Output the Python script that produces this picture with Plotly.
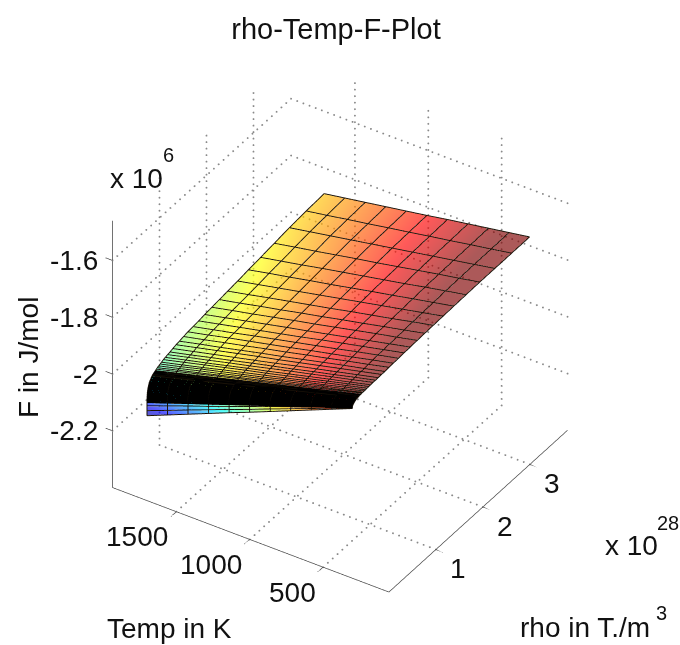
import numpy as np
import plotly.graph_objects as go

# Values
temp_K = [1700, 1560, 1420, 1280, 1140, 1000, 860, 720, 580, 440, 300]
rho_1e28 = [3.77, 3.39, 3.03, 2.71, 2.42, 2.16, 1.93, 1.72, 1.54, 1.38, 1.23, 1.10, .98, .87, .78, .69,
            .62, .55, .49, .44, .39, .35, .31, .28, .25, .22, .20, .18, .16, .14, .125, .11,
            .09, .07, .05, .04, .03, .02, .015, .01, .007, .005, .003, .002, .001, .0005,
            .0002, .0001, .00005]
# -F in kJ/mol: one row per rho value, one column per temperature
minus_F_kJ = [
 [1884,1872,1860,1848,1836,1824,1811,1799,1787,1775,1763],
 [1888,1876,1863,1851,1838,1826,1813,1801,1788,1776,1763],
 [1893,1880,1867,1854,1841,1828,1815,1802,1789,1776,1763],
 [1900,1886,1873,1859,1845,1832,1818,1804,1790,1777,1763],
 [1906,1892,1878,1863,1849,1835,1821,1807,1792,1778,1764],
 [1911,1896,1882,1867,1853,1838,1823,1809,1794,1780,1765],
 [1916,1901,1886,1871,1856,1841,1826,1811,1796,1781,1766],
 [1920,1905,1889,1874,1859,1844,1828,1813,1798,1782,1767],
 [1923,1908,1892,1877,1861,1846,1830,1815,1799,1784,1768],
 [1926,1910,1895,1879,1863,1848,1832,1816,1800,1785,1769],
 [1929,1913,1897,1881,1865,1850,1834,1818,1802,1786,1770],
 [1932,1916,1900,1884,1868,1852,1835,1819,1803,1787,1771],
 [1934,1918,1902,1885,1869,1853,1837,1821,1804,1788,1772],
 [1936,1920,1903,1887,1871,1855,1838,1822,1806,1789,1773],
 [1939,1923,1906,1890,1873,1857,1840,1824,1807,1791,1774],
 [1942,1925,1909,1892,1875,1859,1842,1825,1808,1792,1775],
 [1944,1927,1910,1893,1876,1860,1843,1826,1809,1792,1775],
 [1947,1930,1913,1896,1879,1862,1844,1827,1810,1793,1776],
 [1950,1933,1915,1898,1880,1863,1846,1828,1811,1793,1776],
 [1952,1934,1917,1899,1882,1864,1846,1829,1811,1794,1776],
 [1954,1936,1919,1901,1883,1866,1848,1830,1812,1795,1777],
 [1956,1938,1920,1902,1884,1867,1849,1831,1813,1795,1777],
 [1959,1941,1923,1904,1886,1868,1850,1832,1813,1795,1777],
 [1961,1943,1924,1906,1888,1870,1851,1833,1815,1796,1778],
 [1963,1945,1926,1908,1889,1871,1852,1834,1815,1797,1778],
 [1965,1946,1928,1909,1890,1872,1853,1834,1815,1797,1778],
 [1967,1948,1929,1910,1891,1873,1854,1835,1816,1797,1778],
 [1969,1950,1931,1912,1893,1874,1855,1836,1817,1798,1779],
 [1971,1952,1933,1913,1894,1875,1856,1837,1817,1798,1779],
 [1973,1954,1934,1915,1895,1876,1857,1837,1818,1798,1779],
 [1975,1956,1936,1917,1897,1878,1858,1839,1819,1800,1780],
 [1977,1957,1938,1918,1898,1879,1859,1839,1819,1800,1780],
 [1981,1961,1941,1921,1901,1881,1861,1841,1821,1801,1781],
 [1986,1966,1945,1925,1905,1885,1864,1844,1824,1803,1783],
 [1991,1970,1950,1929,1909,1888,1867,1847,1826,1806,1785],
 [1996,1975,1954,1933,1912,1891,1870,1849,1828,1807,1786],
 [2002,1981,1959,1938,1916,1895,1874,1852,1831,1809,1788],
 [2008,1986,1964,1942,1920,1899,1877,1855,1833,1811,1789],
 [2014,1992,1969,1947,1924,1902,1880,1857,1835,1812,1790],
 [2020,1997,1974,1951,1928,1906,1883,1860,1837,1814,1791],
 [2026,2003,1979,1956,1932,1909,1886,1862,1839,1815,1792],
 [2031,2007,1983,1960,1936,1912,1888,1864,1841,1817,1793],
 [2036,2012,1988,1963,1939,1915,1891,1867,1842,1818,1794],
 [2041,2016,1992,1967,1943,1918,1893,1869,1844,1820,1795],
 [2046,2021,1996,1971,1946,1921,1896,1871,1846,1821,1796],
 [2052,2027,2001,1976,1950,1925,1899,1874,1848,1823,1797],
 [2066,2039,2012,1986,1959,1932,1905,1878,1852,1825,1798],
 [2083,2055,2026,1998,1970,1942,1913,1885,1857,1828,1800],
 [2101,2071,2041,2011,1981,1952,1922,1892,1862,1832,1802],
]
rho_ticks = [1, 2, 3]
temp_ticks = [500, 1000, 1500]
F_ticks = [-2.2, -2.0, -1.8, -1.6]
F_tick_labels = ["-2.2", "-2", "-1.8", "-1.6"]
rho_range = [0, 3.8]
temp_range = [51, 1935]
F_range = [-2.4, -1.46]

F = -np.array(minus_F_kJ, dtype=float).T / 1000.0   # rows = temperature, cols = rho

JET = [[0, "rgb(0,0,143)"], [.125, "rgb(0,0,255)"], [.375, "rgb(0,255,255)"],
       [.625, "rgb(255,255,0)"], [.875, "rgb(255,0,0)"], [1, "rgb(128,0,0)"]]
TEXT = "#111111"
FONT = "Liberation Sans, Arial, sans-serif"


def segments(items):
    xs, ys, zs = [], [], []
    for a, b in items:
        xs += [a[0], b[0], None]
        ys += [a[1], b[1], None]
        zs += [a[2], b[2], None]
    return xs, ys, zs


def line_trace(items, color, width):
    xs, ys, zs = segments(items)
    return go.Scatter3d(x=xs, y=ys, z=zs, mode="lines", showlegend=False, hoverinfo="skip",
                        line=dict(color=color, width=width))


r0, r1 = rho_range
t0, t1 = temp_range
z0, z1 = F_range

grid = []      # (start, end, number of dots)
for r in rho_ticks:
    grid.append(((r, t0, z0), (r, t1, z0), 46))
    grid.append(((r, t1, z0), (r, t1, z1), 42))
for t in temp_ticks:
    grid.append(((r0, t, z0), (r1, t, z0), 38))
    grid.append(((r1, t, z0), (r1, t, z1), 42))
for z in F_ticks:
    grid.append(((r0, t1, z), (r1, t1, z), 38))
    grid.append(((r1, t1, z), (r1, t0, z), 46))
dots = np.vstack([np.linspace(a, b, n) for a, b, n in grid])

axes = [((r0, t1, z0), (r0, t0, z0)), ((r0, t0, z0), (r1, t0, z0)), ((r0, t1, z0), (r0, t1, z1))]
dr = (r1 - r0) * 0.03
dt = (t1 - t0) * 0.025
for r in rho_ticks:
    axes.append(((r, t0, z0), (r, t0 - dt, z0)))
for t in temp_ticks:
    axes.append(((r0, t, z0), (r0 - dr, t, z0)))
for z in F_ticks:
    axes.append(((r0, t1, z), (r0, t1 + dt, z)))

n_fine = 32
rows_fine = [[(rho_1e28[i], temp_K[j], F[j, i]) for j in range(len(temp_K))] for i in range(len(rho_1e28))]
cols = [[(rho_1e28[i], temp_K[j], F[j, i]) for i in range(len(rho_1e28))] for j in range(len(temp_K))]


def polyline(points):
    return [(points[k], points[k + 1]) for k in range(len(points) - 1)]


mesh_fine = []
for i, row in enumerate(rows_fine):
    if i < n_fine or i >= 46:
        mesh_fine += polyline(row)
for c in cols:
    mesh_fine += polyline(c)
mesh_band = []
for i, row in enumerate(rows_fine):
    if n_fine - 4 <= i < 46:
        mesh_band += polyline(row)

fig = go.Figure()
fig.add_trace(go.Scatter3d(x=dots[:, 0], y=dots[:, 1], z=dots[:, 2], mode="markers", showlegend=False,
                           hoverinfo="skip", marker=dict(size=1.1, color="#8a8a8a", line=dict(width=0))))
fig.add_trace(line_trace(axes, "#444444", 1.4))
fig.add_trace(go.Surface(x=rho_1e28, y=temp_K, z=F, colorscale=JET, showscale=False, opacity=0.65,
                         cmin=-2.11, cmax=-1.78,
                         lighting=dict(ambient=1, diffuse=0, specular=0, roughness=1, fresnel=0),
                         hoverinfo="skip"))
fig.add_trace(line_trace(mesh_fine, "#1a1208", 2))
fig.add_trace(line_trace(mesh_band, "#000000", 5))

tick_font = dict(family=FONT, size=28, color=TEXT)
scene_notes = []
for r in rho_ticks:
    scene_notes.append(dict(x=r, y=t0, z=z0, text=str(r), showarrow=False, xshift=22, yshift=-19, font=tick_font))
for t in temp_ticks:
    scene_notes.append(dict(x=r0, y=t, z=z0, text=str(t), showarrow=False, xshift=-39 if t >= 1000 else -31,
                            yshift=-25, font=tick_font))
for z, lab in zip(F_ticks, F_tick_labels):
    scene_notes.append(dict(x=r0, y=t1, z=z, text=lab, showarrow=False, xanchor="right", xshift=-12, yshift=0,
                            font=tick_font))

hidden = dict(visible=False)
W, H = 680, 645
BOX = 1.03


def note(x, y, text, size=28, **kw):
    return dict(x=x / W, y=1 - y / H, xref="paper", yref="paper", text=text, showarrow=False,
                xanchor="center", yanchor="middle",
                font=dict(family=FONT, size=size, color=TEXT), **kw)


# The scene ranges are widened evenly by the tick length, so the outward tick marks are not clipped;
# the aspect ratio grows by the same factor, which leaves the drawn box unchanged.
fig.update_layout(
    width=W, height=H, margin=dict(l=0, r=0, t=0, b=0), paper_bgcolor="white", showlegend=False,
    title=dict(text="rho-Temp-F-Plot", x=336 / W, y=1 - 29 / H, xanchor="center", yanchor="middle",
               font=dict(family=FONT, size=29, color=TEXT)),
    scene=dict(
        domain=dict(x=[0, 1], y=[0, 0.99]),
        aspectmode="manual",
        aspectratio=dict(x=BOX * (r1 - r0 + 2 * dr) / (r1 - r0), y=BOX * (t1 - t0 + 2 * dt) / (t1 - t0), z=BOX),
        xaxis=dict(range=[r0 - dr, r1 + dr], **hidden), yaxis=dict(range=[t0 - dt, t1 + dt], **hidden),
        zaxis=dict(range=F_range, **hidden),
        camera=dict(projection=dict(type="orthographic"), up=dict(x=0, y=0, z=1),
                    center=dict(x=0, y=0, z=0),
                    eye=dict(x=-.681 * 1.74, y=-.440 * 1.74, z=.585 * 1.74)),
        annotations=scene_notes,
    ),
    annotations=[
        note(136, 178, "x 10"), note(168, 155, "6", size=20),
        note(28, 358, "F in J/mol", textangle=-90),
        note(169, 628, "Temp in K"),
        note(584.5, 627, "rho in T./m"), note(661, 613, "3", size=20),
        note(631, 545, "x 10"), note(668, 523, "28", size=20),
    ],
)
fig.write_html("out.html", post_script="document.body.style.margin='0';",
               config=dict(displayModeBar=False))
